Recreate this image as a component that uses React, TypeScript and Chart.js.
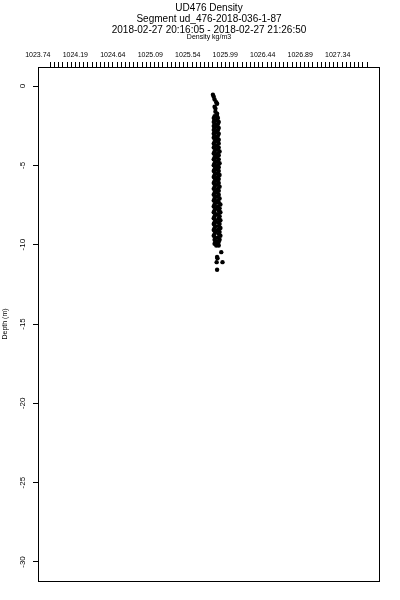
import React, { useEffect, useRef } from "react";
import { Chart, registerables } from "chart.js";

Chart.register(...registerables);

const FONT = "'Liberation Sans', Arial, Helvetica, sans-serif";

const titleLines = [
  "UD476 Density",
  "Segment ud_476-2018-036-1-87",
  "2018-02-27 20:16:05 - 2018-02-27 21:26:50",
];
const xAxisTitle = "Density kg/m3";
const yAxisTitle = "Depth (m)";

// labelled ticks on the top (density) axis
const xTickLabels = [1023.74, 1024.19, 1024.64, 1025.09, 1025.54, 1025.99, 1026.44, 1026.89, 1027.34];
// minor tick marks run from this value to the end value
const xMinorStart = 1023.74;
const xMinorEnd = 1027.54;
const xMinorStep = 0.05;
const xMin = 1023.59;
const xMax = 1027.696;

const yMin = -31.2;
const yMax = 1.2;
const yStep = 5;

// depth (m) of each sample
const depths = [
  -0.55, -0.68, -0.85, -1.02, -1.12, -1.3, -1.42, -1.62, -1.75,
  -1.9, -1.9, -2.02, -2.02, -2.15, -2.15, -2.27, -2.27, -2.4, -2.4,
  -2.52, -2.52, -2.64, -2.64, -2.77, -2.77, -2.89, -2.89, -3.01, -3.01,
  -3.14, -3.14, -3.26, -3.26, -3.38, -3.38, -3.51, -3.51, -3.63, -3.63,
  -3.76, -3.76, -3.88, -3.88, -4.0, -4.0, -4.13, -4.13, -4.25, -4.25,
  -4.37, -4.37, -4.5, -4.5, -4.62, -4.62, -4.75, -4.75, -4.87, -4.87,
  -4.99, -4.99, -5.12, -5.12, -5.24, -5.24, -5.36, -5.36, -5.49, -5.49,
  -5.61, -5.61, -5.73, -5.73, -5.86, -5.86, -5.98, -5.98, -6.11, -6.11,
  -6.23, -6.23, -6.35, -6.35, -6.48, -6.48, -6.6, -6.6, -6.72, -6.72,
  -6.85, -6.85, -6.97, -6.97, -7.09, -7.09, -7.22, -7.22, -7.34, -7.34,
  -7.47, -7.47, -7.59, -7.59, -7.71, -7.71, -7.84, -7.84, -7.96, -7.96,
  -8.08, -8.08, -8.21, -8.21, -8.33, -8.33, -8.46, -8.46, -8.58, -8.58,
  -8.7, -8.7, -8.83, -8.83, -8.95, -8.95, -9.07, -9.07, -9.2, -9.2,
  -9.32, -9.32, -9.44, -9.44, -9.57, -9.57, -9.69, -9.69, -9.82, -9.82,
  -9.94, -9.94, -10.05, -10.05,
  -10.47, -10.78, -10.85, -11.1, -11.1, -11.58,
];

// density (kg/m3) of each sample
const densities = [
  1025.69, 1025.7, 1025.71, 1025.73, 1025.74, 1025.71, 1025.72, 1025.72, 1025.74,
  1025.71, 1025.74, 1025.7, 1025.75, 1025.71, 1025.74, 1025.7, 1025.76, 1025.72, 1025.75,
  1025.7, 1025.74, 1025.71, 1025.76, 1025.7, 1025.75, 1025.72, 1025.74, 1025.7, 1025.76,
  1025.71, 1025.75, 1025.7, 1025.74, 1025.72, 1025.76, 1025.71, 1025.75, 1025.7, 1025.76,
  1025.71, 1025.74, 1025.7, 1025.76, 1025.72, 1025.75, 1025.71, 1025.77, 1025.7, 1025.75,
  1025.72, 1025.76, 1025.71, 1025.74, 1025.7, 1025.76, 1025.72, 1025.75, 1025.71, 1025.77,
  1025.7, 1025.75, 1025.72, 1025.76, 1025.71, 1025.74, 1025.7, 1025.76, 1025.72, 1025.75,
  1025.71, 1025.77, 1025.7, 1025.75, 1025.72, 1025.76, 1025.71, 1025.74, 1025.7, 1025.76,
  1025.72, 1025.75, 1025.71, 1025.77, 1025.7, 1025.75, 1025.72, 1025.76, 1025.71, 1025.74,
  1025.7, 1025.76, 1025.72, 1025.75, 1025.71, 1025.77, 1025.7, 1025.75, 1025.72, 1025.76,
  1025.71, 1025.78, 1025.7, 1025.75, 1025.72, 1025.77, 1025.71, 1025.76, 1025.7, 1025.78,
  1025.72, 1025.75, 1025.71, 1025.77, 1025.7, 1025.76, 1025.72, 1025.78, 1025.71, 1025.75,
  1025.7, 1025.77, 1025.72, 1025.76, 1025.71, 1025.78, 1025.7, 1025.75, 1025.72, 1025.77,
  1025.71, 1025.76, 1025.7, 1025.78, 1025.72, 1025.75, 1025.71, 1025.77, 1025.72, 1025.76,
  1025.71, 1025.75, 1025.73, 1025.76,
  1025.79, 1025.74, 1025.745, 1025.735, 1025.805, 1025.74,
];

const boxPlugin = {
  id: "plotBox",
  afterDraw(chart: any) {
    const { ctx, chartArea } = chart;
    ctx.save();
    ctx.strokeStyle = "#000";
    ctx.lineWidth = 1;
    ctx.strokeRect(
      Math.round(chartArea.left) + 0.5,
      Math.round(chartArea.top) + 0.5,
      Math.round(chartArea.right - chartArea.left) - 1,
      Math.round(chartArea.bottom - chartArea.top)
    );
    ctx.restore();
  },
};

export default function App() {
  const canvasRef = useRef<HTMLCanvasElement | null>(null);

  useEffect(() => {
    if (!canvasRef.current) return;
    Chart.defaults.font.family = FONT;
    Chart.defaults.color = "#000";

    const minorTicks: { value: number }[] = [];
    const nMinor = Math.round((xMinorEnd - xMinorStart) / xMinorStep);
    for (let i = 0; i <= nMinor; i++) {
      minorTicks.push({ value: Math.round((xMinorStart + i * xMinorStep) * 100) / 100 });
    }

    const points = depths.map((d, i) => ({ x: densities[i], y: d }));

    const chart = new Chart(canvasRef.current, {
      type: "scatter",
      data: {
        datasets: [
          {
            data: points,
            backgroundColor: "#000",
            borderColor: "#000",
            borderWidth: 0,
            pointRadius: 2.2,
            pointStyle: "circle",
          },
        ],
      },
      options: {
        animation: false,
        responsive: false,
        events: [],
        layout: { padding: { left: 0, right: 20, top: 0, bottom: 19 } },
        plugins: {
          legend: { display: false },
          tooltip: { enabled: false },
          title: {
            display: true,
            text: titleLines,
            fullSize: false,
            color: "#000",
            font: { family: FONT, size: 10, weight: "normal", lineHeight: 1.1 },
            padding: { top: 3, bottom: -4 },
          },
        },
        scales: {
          x: {
            type: "linear",
            position: "top",
            min: xMin,
            max: xMax,
            afterBuildTicks: (s: any) => {
              s.ticks = minorTicks.map((t) => ({ value: t.value }));
            },
            afterFit: (s: any) => {
              s.height = 35;
            },
            ticks: {
              autoSkip: false,
              minRotation: 0,
              maxRotation: 0,
              align: "end",
              padding: 3,
              color: "#000",
              font: { family: FONT, size: 7 },
              callback: (v: any) => {
                const val = Math.round(Number(v) * 100) / 100;
                return xTickLabels.some((l) => Math.abs(l - val) < 1e-6) ? val.toFixed(2) : "";
              },
            },
            grid: {
              display: true,
              drawOnChartArea: false,
              drawTicks: true,
              tickLength: 5,
              color: "#000",
              tickColor: "#000",
              tickWidth: 1,
            },
            border: { display: false },
            title: {
              display: true,
              text: xAxisTitle,
              color: "#000",
              font: { family: FONT, size: 7 },
              padding: { top: 1, bottom: 0 },
            },
          },
          y: {
            type: "linear",
            min: yMin,
            max: yMax,
            afterFit: (s: any) => {
              s.width = 38;
            },
            ticks: {
              stepSize: yStep,
              includeBounds: false,
              minRotation: 90,
              maxRotation: 90,
              crossAlign: "center",
              padding: 4,
              color: "#000",
              font: { family: FONT, size: 8 },
            },
            grid: {
              display: true,
              drawOnChartArea: false,
              drawTicks: true,
              tickLength: 5,
              color: "#000",
              tickColor: "#000",
              tickWidth: 1,
            },
            border: { display: false },
            title: {
              display: true,
              text: yAxisTitle,
              color: "#000",
              font: { family: FONT, size: 7 },
              padding: { top: 1, bottom: 0 },
            },
          },
        },
      },
      plugins: [boxPlugin],
    } as any);

    return () => chart.destroy();
  }, []);

  return (
    <div style={{ position: "fixed", left: 0, top: 0, width: 400, height: 600, background: "#fff" }}>
      <canvas ref={canvasRef} width={400} height={600} style={{ width: 400, height: 600, display: "block" }} />
    </div>
  );
}
